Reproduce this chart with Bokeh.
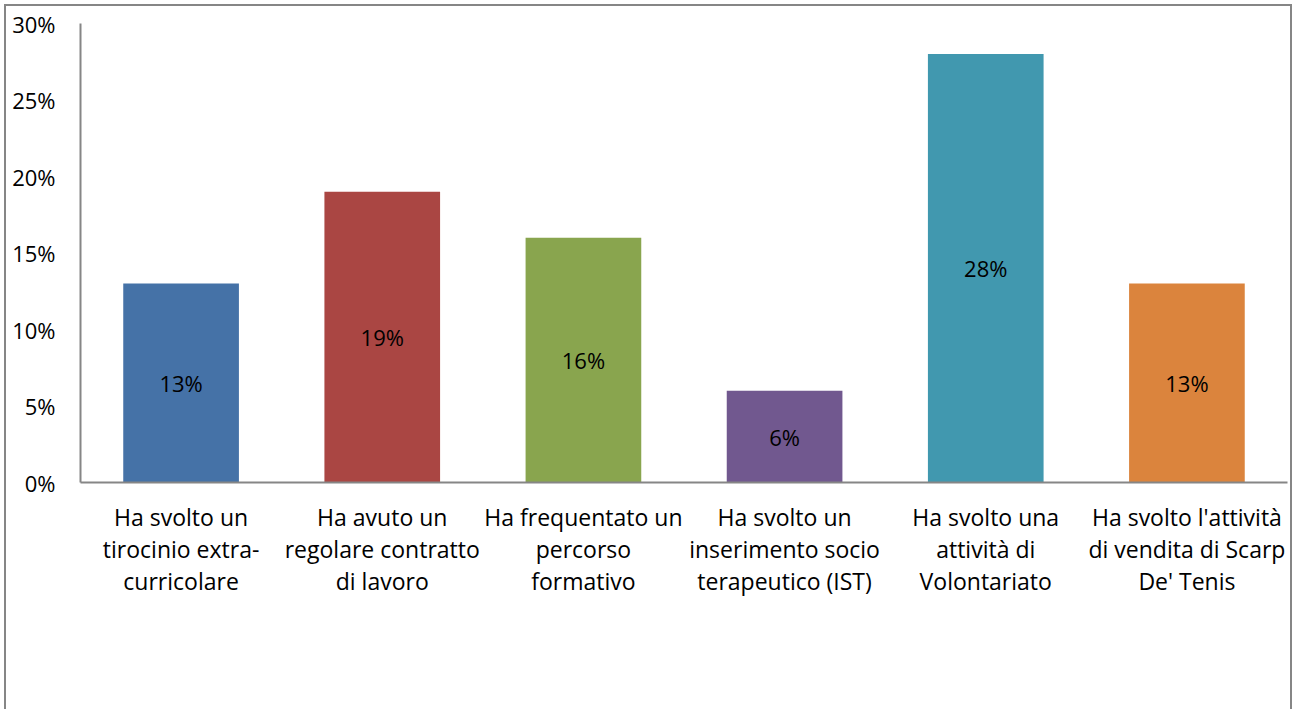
from bokeh.plotting import figure
from bokeh.models import ColumnDataSource, NumeralTickFormatter, FixedTicker, Range1d
from bokeh.core.properties import value
from bokeh.embed import file_html
from bokeh.resources import INLINE

categories = [
    "Ha svolto un\ntirocinio extra-\ncurricolare",
    "Ha avuto un\nregolare contratto\ndi lavoro",
    "Ha frequentato un\npercorso\nformativo",
    "Ha svolto un\ninserimento socio\nterapeutico (IST)",
    "Ha svolto una\nattività di\nVolontariato",
    "Ha svolto l'attività\ndi vendita di Scarp\nDe' Tenis",
]
values = [0.13, 0.19, 0.16, 0.06, 0.28, 0.13]
colors = ["#4572A7", "#AA4643", "#89A54E", "#71588F", "#4198AF", "#DB843D"]
labels = ["13%", "19%", "16%", "6%", "28%", "13%"]
yticks = [0, 0.05, 0.10, 0.15, 0.20, 0.25, 0.30]

FONT = "Open Sans"

src = ColumnDataSource(dict(
    cat=categories, val=values, color=colors, label=labels,
    mid=[v / 2 for v in values],
))

p = figure(x_range=categories, y_range=Range1d(0, 0.30),
           width=1288, height=705, output_backend="svg", toolbar_location=None,
           min_border_left=74, min_border_right=7, min_border_top=17,
           min_border_bottom=229)
p.styles = {"border-top": "2px solid #868686", "border-left": "2px solid #868686",
            "border-right": "2px solid #868686", "margin-left": "4px",
            "margin-top": "4px"}
p.outline_line_color = None
p.xgrid.grid_line_color = None
p.ygrid.grid_line_color = None

p.vbar(x="cat", top="val", width=0.575, color="color", source=src, line_color=None)
p.text(x="cat", y="mid", text="label", source=src, text_align="center",
       text_baseline="middle", text_font=value(FONT), text_font_size="22px",
       text_color="#000000")

p.yaxis.ticker = FixedTicker(ticks=yticks)
p.yaxis.formatter = NumeralTickFormatter(format="0%")
for ax in (p.xaxis, p.yaxis):
    ax.axis_line_color = "#868686"
    ax.axis_line_width = 2
    ax.major_tick_line_color = None
    ax.minor_tick_line_color = None
    ax.major_label_text_font = FONT
    ax.major_label_text_font_size = "22px"
    ax.major_label_text_color = "#000000"
p.xaxis.major_label_text_font_size = "23px"
p.xaxis.major_label_text_line_height = 1.0
p.yaxis.major_label_standoff = 19
p.xaxis.major_label_standoff = 12

open("out.html", "w").write(file_html(p, INLINE))
